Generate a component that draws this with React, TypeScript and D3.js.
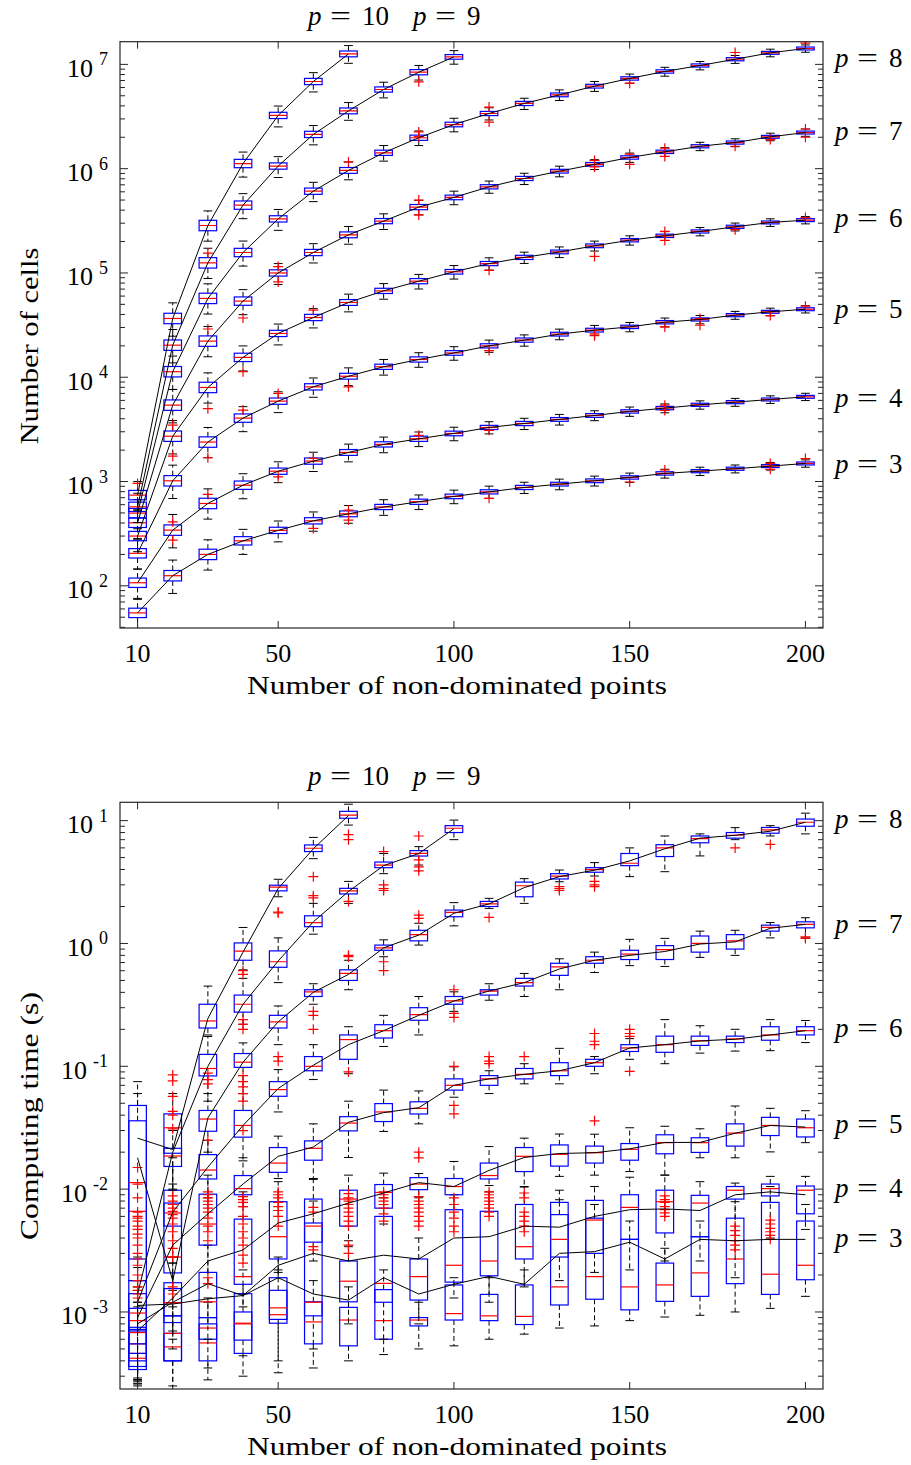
import React from 'react';
import * as d3 from 'd3';

type Row = [number, number, number, number, number]; // [whisker low, q1, median, q3, whisker high]

const NS = [10, 20, 30, 40, 50, 60, 70, 80, 90, 100, 110, 120, 130, 140, 150, 160, 170, 180, 190, 200];
const X_TICKS = [10, 50, 100, 150, 200];
const P_TOP = ['10', '9'];
const P_RIGHT = ['8', '7', '6', '5', '4', '3'];

// ---------- Panel 1: number of cells (medians) ----------
const cellsP3 = [55, 125, 200, 270, 340, 420, 490, 570, 640, 720, 796, 877, 944, 1016, 1094, 1196, 1257, 1326, 1406, 1490];
const cellsP4 = [107, 342, 616, 922, 1256, 1570, 1900, 2270, 2570, 2890, 3300, 3600, 3940, 4300, 4700, 5060, 5440, 5770, 6120, 6490];
const cellsP5 = [205, 1016, 2390, 4055, 5900, 8090, 10230, 12600, 14800, 17100, 20000, 22700, 25900, 28300, 30400, 33700, 35800, 39400, 42400, 44900];
const cellsP6 = [300, 2720, 7980, 15500, 26300, 37400, 52100, 67300, 83400, 102600, 123000, 141000, 159000, 182000, 206000, 227000, 250000, 277000, 305000, 321000];
const cellsP7 = [402, 5400, 22200, 53700, 100000, 157000, 232000, 314000, 428000, 530000, 670000, 805000, 946000, 1.1e6, 1.28e6, 1.45e6, 1.64e6, 1.78e6, 2.02e6, 2.22e6];
const cellsP8 = [498, 11300, 57000, 157000, 330000, 608000, 962000, 1.42e6, 1.98e6, 2.65e6, 3.38e6, 4.22e6, 5.1e6, 6.18e6, 7.33e6, 8.55e6, 9.76e6, 1.12e7, 1.29e7, 1.42e7];
const cellsP9 = [572, 20300, 125000, 447000, 1.06e6, 2.13e6, 3.58e6, 5.74e6, 8.41e6, 1.18e7];
const cellsP10 = [741, 36600, 285000, 1.12e6, 3.24e6, 6.85e6, 1.26e7];
// spreads read per x position (in decades)
const cellsBoxHalf = [0.045, 0.05, 0.05, 0.04, 0.03, 0.03, 0.028, 0.025, 0.025, 0.022, 0.02, 0.02, 0.018, 0.018, 0.016, 0.016, 0.015, 0.015, 0.014, 0.014];
const cellsWhiskUp = [0.13, 0.15, 0.14, 0.11, 0.09, 0.085, 0.08, 0.07, 0.065, 0.06, 0.055, 0.05, 0.048, 0.045, 0.042, 0.04, 0.038, 0.036, 0.035, 0.034];
const cellsWhiskDown = [0.15, 0.17, 0.15, 0.13, 0.11, 0.1, 0.09, 0.08, 0.075, 0.07, 0.062, 0.058, 0.054, 0.05, 0.047, 0.045, 0.042, 0.04, 0.038, 0.036];
const cellsOutliers: [number, number][] = [
  [10, 960], [30, 155000], [30, 29000], [20, 3470], [20, 1750], [20, 411], [20, 274], [40, 37000], [30, 5000], [30, 1690], [30, 752],
  [40, 11300], [40, 4840], [50, 115000], [50, 82000], [50, 7000], [50, 1110], [60, 44000], [60, 1670], [60, 355],
  [70, 1160000], [70, 8100], [70, 532], [70, 427], [90, 6800000], [90, 2250000], [90, 2030000], [90, 500000], [90, 360000], [90, 2770],
  [110, 3900000], [110, 2800000], [110, 106000], [110, 18000], [110, 3100], [110, 690], [140, 1200000], [140, 1040000], [140, 144000],
  [140, 26000], [140, 25000], [150, 6600000], [150, 1380000], [150, 1100000], [150, 990], [160, 1570000], [160, 1310000], [160, 250000],
  [160, 205000], [160, 30400], [160, 5400], [160, 4800], [160, 1290], [170, 36600], [170, 31500], [180, 13000000], [180, 1640000],
  [180, 260000], [190, 1900000], [190, 39000], [190, 1490], [190, 1310], [200, 16000000], [200, 2400000], [200, 2000000], [200, 340000],
  [200, 48000], [200, 1660],
];

// ---------- Panel 2: computing time ----------
const timeP3: Row[] = [
  [0.00029, 0.00034, 0.00042, 0.00072, 0.0012], [0.00025, 0.0004, 0.00052, 0.00067, 0.0011], [0.00028, 0.0004, 0.00056, 0.0008, 0.0012],
  [0.00044, 0.00059, 0.0008, 0.001, 0.0014], [0.00032, 0.00081, 0.00095, 0.0019, 0.0028], [0.00035, 0.00055, 0.00083, 0.00121, 0.0018],
  [0.0004, 0.00053, 0.00086, 0.00109, 0.0016], [0.00045, 0.0006, 0.00085, 0.00152, 0.0022], [0.0005, 0.00077, 0.00086, 0.0009, 0.0012],
  [0.00053, 0.00086, 0.00097, 0.00166, 0.0019], [0.0006, 0.00085, 0.00093, 0.00139, 0.0019], [0.00066, 0.00079, 0.00092, 0.00166, 0.0022],
  [0.00074, 0.00114, 0.0016, 0.0062, 0.0082], [0.00077, 0.00127, 0.00194, 0.0058, 0.0075], [0.00085, 0.00104, 0.0016, 0.0039, 0.0055],
  [0.00091, 0.00122, 0.00166, 0.0025, 0.0033], [0.00094, 0.00134, 0.00208, 0.0041, 0.0055], [0.001, 0.0017, 0.0027, 0.0058, 0.0079],
  [0.00107, 0.00139, 0.00203, 0.0078, 0.0105], [0.00134, 0.00183, 0.0024, 0.0055, 0.0075],
];
const timeMeanP3 = [0.00113, 0.00116, 0.00128, 0.00136, 0.0019, 0.0014, 0.00125, 0.0019, 0.0014, 0.00168, 0.00195, 0.00168, 0.003, 0.0031, 0.0037, 0.0027, 0.0039, 0.0038, 0.0039, 0.0039];

const timeP4: Row[] = [
  [0.00028, 0.00036, 0.00046, 0.0007, 0.0011], [0.00023, 0.0004, 0.00067, 0.00093, 0.0015], [0.00035, 0.0006, 0.00074, 0.0009, 0.0013],
  [0.0003, 0.00046, 0.00081, 0.00141, 0.0022], [0.0004, 0.00087, 0.00108, 0.0015, 0.0022], [0.0005, 0.00093, 0.0012, 0.0053, 0.008],
  [0.0008, 0.00121, 0.00178, 0.0026, 0.0038], [0.0006, 0.0012, 0.00171, 0.006, 0.0085], [0.0008, 0.00125, 0.00194, 0.0027, 0.004],
  [0.0013, 0.00175, 0.0024, 0.0068, 0.009], [0.0012, 0.00197, 0.0026, 0.0066, 0.0095], [0.0016, 0.0027, 0.0034, 0.0075, 0.0105],
  [0.0018, 0.0028, 0.0039, 0.0078, 0.0098], [0.0021, 0.003, 0.0056, 0.0081, 0.0105], [0.0022, 0.0039, 0.0071, 0.009, 0.0125],
  [0.0026, 0.0044, 0.0079, 0.0098, 0.013], [0.0026, 0.0041, 0.0077, 0.0089, 0.0115], [0.0019, 0.0083, 0.0098, 0.0105, 0.0112],
  [0.004, 0.0088, 0.0101, 0.011, 0.0127], [0.0047, 0.0063, 0.0098, 0.0106, 0.0127],
];
const timeMeanP4 = [0.0008, 0.0012, 0.0017, 0.00136, 0.0024, 0.003, 0.0026, 0.0029, 0.0027, 0.004, 0.0041, 0.005, 0.0049, 0.006, 0.0068, 0.0069, 0.0067, 0.009, 0.0095, 0.009];

const timeP5: Row[] = [
  [0.00028, 0.0004, 0.00055, 0.00075, 0.0012], [0.0005, 0.00082, 0.00119, 0.00155, 0.0025], [0.0006, 0.0009, 0.00121, 0.0021, 0.0035],
  [0.0011, 0.00168, 0.00194, 0.0057, 0.0095], [0.0021, 0.0027, 0.0041, 0.0079, 0.0115], [0.0026, 0.0037, 0.005, 0.0083, 0.012],
  [0.0034, 0.005, 0.0083, 0.0098, 0.013], [0.0052, 0.007, 0.0094, 0.0109, 0.0135], [0.0085, 0.0099, 0.011, 0.0124, 0.0134],
  [0.0075, 0.009, 0.0105, 0.0122, 0.0168], [0.0107, 0.0121, 0.0129, 0.0163, 0.0222], [0.0104, 0.0139, 0.0185, 0.0218, 0.026],
  [0.0127, 0.0154, 0.0192, 0.0229, 0.0281], [0.013, 0.0163, 0.0198, 0.0224, 0.028], [0.0139, 0.0172, 0.0211, 0.0235, 0.0316],
  [0.013, 0.0194, 0.0239, 0.0277, 0.0325], [0.018, 0.0199, 0.0239, 0.0262, 0.031], [0.018, 0.0224, 0.0286, 0.034, 0.0475],
  [0.0201, 0.0273, 0.033, 0.0384, 0.0455], [0.0239, 0.0266, 0.0316, 0.0372, 0.0435],
];
const timeMeanP5 = [0.0007, 0.0013, 0.0026, 0.0032, 0.0053, 0.0063, 0.0077, 0.0093, 0.0113, 0.0105, 0.0142, 0.0181, 0.0195, 0.0198, 0.0213, 0.024, 0.024, 0.0285, 0.033, 0.032];

const timeP6: Row[] = [
  [0.00028, 0.00046, 0.00068, 0.00107, 0.0016], [0.0006, 0.00093, 0.00119, 0.00173, 0.0028], [0.0017, 0.0035, 0.0052, 0.0091, 0.013],
  [0.0072, 0.009, 0.0101, 0.0129, 0.018], [0.0122, 0.0137, 0.0163, 0.0218, 0.027], [0.0122, 0.0172, 0.0215, 0.0247, 0.034],
  [0.0181, 0.0298, 0.0345, 0.0389, 0.052], [0.0295, 0.0355, 0.0425, 0.0497, 0.064], [0.034, 0.0409, 0.0454, 0.0514, 0.063],
  [0.056, 0.064, 0.07, 0.079, 0.099], [0.06, 0.07, 0.079, 0.084, 0.092], [0.072, 0.079, 0.086, 0.096, 0.105],
  [0.072, 0.084, 0.092, 0.107, 0.14], [0.087, 0.1, 0.107, 0.114, 0.12], [0.114, 0.132, 0.141, 0.15, 0.168],
  [0.105, 0.13, 0.15, 0.176, 0.24], [0.128, 0.148, 0.161, 0.176, 0.214], [0.133, 0.156, 0.167, 0.176, 0.2],
  [0.134, 0.163, 0.18, 0.21, 0.24], [0.156, 0.18, 0.195, 0.21, 0.236],
];
const timeMeanP6 = [0.0009, 0.0035, 0.0063, 0.011, 0.0185, 0.022, 0.035, 0.042, 0.046, 0.07, 0.079, 0.086, 0.092, 0.107, 0.141, 0.15, 0.161, 0.166, 0.18, 0.195];

const timeP7: Row[] = [
  [0.00027, 0.00055, 0.00085, 0.00141, 0.0023], [0.0025, 0.005, 0.0064, 0.0077, 0.011], [0.0085, 0.0121, 0.0143, 0.0191, 0.025],
  [0.017, 0.0265, 0.033, 0.0437, 0.06], [0.0425, 0.057, 0.0646, 0.075, 0.094], [0.078, 0.092, 0.1, 0.12, 0.15],
  [0.087, 0.114, 0.165, 0.18, 0.21], [0.145, 0.17, 0.195, 0.218, 0.26], [0.18, 0.237, 0.263, 0.3, 0.37],
  [0.28, 0.32, 0.341, 0.37, 0.404], [0.345, 0.38, 0.41, 0.42, 0.47], [0.37, 0.45, 0.48, 0.52, 0.57],
  [0.42, 0.55, 0.646, 0.69, 0.75], [0.58, 0.69, 0.73, 0.78, 0.85], [0.66, 0.74, 0.82, 0.88, 1.08],
  [0.65, 0.74, 0.89, 0.96, 1.1], [0.77, 0.85, 1.0, 1.15, 1.26], [0.8, 0.9, 1.05, 1.18, 1.28],
  [1.11, 1.26, 1.35, 1.41, 1.48], [1.11, 1.34, 1.43, 1.5, 1.62],
];
const timeMeanP7 = [0.0012, 0.0065, 0.0151, 0.033, 0.066, 0.102, 0.15, 0.195, 0.26, 0.34, 0.41, 0.48, 0.62, 0.73, 0.8, 0.86, 0.99, 1.03, 1.33, 1.43];

const timeP8: Row[] = [
  [0.00026, 0.0018, 0.0066, 0.036, 0.06], [0.0007, 0.00208, 0.0028, 0.0098, 0.018], [0.02, 0.0296, 0.0372, 0.0437, 0.06],
  [0.06, 0.098, 0.108, 0.127, 0.155], [0.15, 0.205, 0.23, 0.26, 0.31], [0.32, 0.37, 0.404, 0.42, 0.47],
  [0.42, 0.5, 0.57, 0.61, 0.73], [0.78, 0.88, 0.92, 0.97, 1.07], [0.97, 1.05, 1.18, 1.28, 1.46],
  [1.39, 1.65, 1.79, 1.87, 2.15], [1.93, 2.0, 2.1, 2.2, 2.33], [2.12, 2.4, 2.95, 3.16, 3.37],
  [3.18, 3.35, 3.54, 3.7, 3.96], [3.54, 3.8, 3.99, 4.14, 4.55], [3.5, 4.3, 4.5, 5.4, 6.0],
  [3.84, 5.1, 5.99, 6.37, 7.5], [5.16, 6.6, 7.13, 7.5, 7.8], [7.0, 7.2, 7.6, 8.0, 8.77],
  [7.5, 7.9, 8.4, 8.8, 9.1], [7.8, 9.0, 9.7, 10.3, 11.5],
];
const timeMeanP8 = [0.018, 0.0018, 0.038, 0.108, 0.23, 0.4, 0.56, 0.92, 1.17, 1.76, 2.1, 2.85, 3.5, 3.95, 4.7, 5.9, 7.2, 7.6, 8.2, 9.7];

const timeP9: Row[] = [
  [0.00026, 0.00072, 0.00098, 0.0018, 0.0028], [0.0098, 0.0153, 0.0186, 0.0215, 0.03], [0.052, 0.0835, 0.096, 0.125, 0.175],
  [0.22, 0.276, 0.32, 0.38, 0.52], [0.48, 0.64, 0.71, 0.87, 1.11], [1.19, 1.37, 1.48, 1.68, 2.12],
  [2.12, 2.53, 2.68, 2.81, 3.2], [3.7, 4.14, 4.35, 4.6, 5.4], [4.35, 5.15, 5.42, 5.7, 6.14], [7.0, 8.0, 8.67, 9.1, 10.1],
];
const timeMeanP9 = [0.0014, 0.02, 0.1, 0.32, 0.72, 1.5, 2.65, 4.3, 5.4, 8.6];

const timeP10: Row[] = [
  [0.00025, 0.0027, 0.0113, 0.048, 0.075], [0.01, 0.0196, 0.0316, 0.041, 0.06], [0.18, 0.205, 0.234, 0.32, 0.45],
  [0.61, 0.73, 0.867, 1.01, 1.35], [2.4, 2.68, 2.87, 2.98, 3.33], [4.9, 5.6, 5.96, 6.34, 7.3], [9.2, 10.45, 11.1, 11.9, 13.6],
];
const timeMeanP10 = [0.026, 0.021, 0.245, 0.85, 2.8, 5.9, 11.0];

const timeOutliers: [number, number][] = [
  [10, 0.015], [10, 0.011], [10, 0.0085], [10, 0.0065], [10, 0.006], [10, 0.0058], [10, 0.0055], [10, 0.005], [10, 0.0047], [10, 0.0043],
  [10, 0.004], [10, 0.0035], [10, 0.003], [10, 0.0027], [10, 0.0024], [10, 0.002], [10, 0.0018], [10, 0.0016], [10, 0.0015], [10, 0.0014], [10, 0.0013],
  [20, 0.085], [20, 0.076], [20, 0.057], [20, 0.043], [20, 0.04], [20, 0.031], [20, 0.0088], [20, 0.008], [20, 0.0075], [20, 0.007],
  [20, 0.0066], [20, 0.0062], [20, 0.0058], [20, 0.0052], [20, 0.0045], [20, 0.0038], [20, 0.0033], [20, 0.0028], [20, 0.0016], [20, 0.0014],
  [30, 0.088], [30, 0.078], [30, 0.072], [30, 0.025], [30, 0.0095], [30, 0.009], [30, 0.0085], [30, 0.008], [30, 0.0075], [30, 0.007],
  [30, 0.0065], [30, 0.0058], [30, 0.005], [30, 0.0045], [30, 0.0038], [30, 0.0019], [30, 0.0017],
  [40, 0.6], [40, 0.56], [40, 0.24], [40, 0.22], [40, 0.2], [40, 0.084], [40, 0.075], [40, 0.068], [40, 0.06], [40, 0.052], [40, 0.03],
  [40, 0.0087], [40, 0.0082], [40, 0.0078], [40, 0.0072], [40, 0.006], [40, 0.0052], [40, 0.0045], [40, 0.004], [40, 0.0035], [40, 0.0029], [40, 0.0025],
  [50, 1.8], [50, 1.77], [50, 0.12], [50, 0.11], [50, 0.0095], [50, 0.009], [50, 0.0085], [50, 0.0078], [50, 0.0072], [50, 0.0067], [50, 0.006], [50, 0.005],
  [60, 3.5], [60, 2.45], [60, 2.35], [60, 0.28], [60, 0.26], [60, 0.2], [60, 0.0071], [60, 0.0065], [60, 0.0034], [60, 0.0032],
  [70, 7.7], [70, 7.0], [70, 2.2], [70, 0.8], [70, 0.78], [70, 0.09], [70, 0.0092], [70, 0.0085], [70, 0.008], [70, 0.0075], [70, 0.007],
  [70, 0.0065], [70, 0.006], [70, 0.0055], [70, 0.005], [70, 0.0035], [70, 0.003],
  [80, 5.6], [80, 3.0], [80, 2.8], [80, 2.7], [80, 0.71], [80, 0.6], [80, 0.0095], [80, 0.009], [80, 0.0085], [80, 0.008], [80, 0.0075], [80, 0.007], [80, 0.0063], [80, 0.0055],
  [90, 7.5], [90, 4.8], [90, 4.2], [90, 3.9], [90, 1.7], [90, 1.6], [90, 0.02], [90, 0.018], [90, 0.0087], [90, 0.008], [90, 0.0075], [90, 0.007],
  [90, 0.0065], [90, 0.006], [90, 0.0055], [90, 0.005],
  [100, 0.42], [100, 0.27], [100, 0.25], [100, 0.1], [100, 0.048], [100, 0.041], [100, 0.0085], [100, 0.0075], [100, 0.0065], [100, 0.0058], [100, 0.005], [100, 0.0045],
  [110, 1.63], [110, 0.12], [110, 0.11], [110, 0.105], [110, 0.0095], [110, 0.009], [110, 0.0085], [110, 0.008], [110, 0.0075], [110, 0.007], [110, 0.0065], [110, 0.006],
  [120, 0.12], [120, 0.0093], [120, 0.0085], [120, 0.0065], [120, 0.006], [120, 0.0055], [120, 0.005], [120, 0.0045],
  [130, 2.9], [130, 2.8], [130, 2.7], [140, 3.2], [140, 3.0], [140, 2.9], [140, 0.185], [140, 0.16], [140, 0.15], [140, 0.036],
  [150, 0.2], [150, 0.185], [150, 0.175], [150, 0.091],
  [160, 0.0088], [160, 0.0082], [160, 0.0078], [160, 0.0072], [160, 0.0068], [160, 0.0064], [160, 0.006],
  [180, 6.0], [180, 0.005], [180, 0.0046], [180, 0.0042], [180, 0.0038], [180, 0.0035], [180, 0.0032],
  [190, 6.4], [190, 0.0056], [190, 0.0052], [190, 0.0048], [190, 0.0045], [190, 0.0042], [190, 0.0039],
  [200, 1.13], [200, 1.1],
];

// ---------- rendering ----------
const FONT = '"Liberation Serif", "Times New Roman", serif';
const BLUE = '#0000ff';
const RED = '#ff0000';
const AXIS = '#262626';

const cellsMedians = [cellsP3, cellsP4, cellsP5, cellsP6, cellsP7, cellsP8, cellsP9, cellsP10];
const cellsRows: Row[][] = cellsMedians.map((meds) =>
  meds.map((m, i) => [
    m / Math.pow(10, cellsWhiskDown[i]),
    m / Math.pow(10, cellsBoxHalf[i]),
    m,
    m * Math.pow(10, cellsBoxHalf[i]),
    m * Math.pow(10, cellsWhiskUp[i]),
  ] as Row)
);
const timeRows: Row[][] = [timeP3, timeP4, timeP5, timeP6, timeP7, timeP8, timeP9, timeP10];
const timeMeans = [timeMeanP3, timeMeanP4, timeMeanP5, timeMeanP6, timeMeanP7, timeMeanP8, timeMeanP9, timeMeanP10];

const L = 120, R = 823;
const xS = d3.scaleLinear().domain([5, 205]).range([L, R]);

interface PanelCfg {
  id: string;
  top: number;
  bottom: number;
  y: d3.ScaleLogarithmic<number, number>;
  rows: Row[][];
  means: number[][];
  outliers: [number, number][];
  ytitle: string;
  ytitleY: number;
  ytitleLen: number;
  topLabelY: number;
  rightLabelYs: number[];
}

function PLabel({ x, y, num }: { x: number; y: number; num: string }) {
  return (
    <g fontFamily={FONT} fontSize={27} fill="#000">
      <text x={x} y={y} fontStyle="italic">p</text>
      <text x={x + 22} y={y} textLength={21} lengthAdjust="spacingAndGlyphs">=</text>
      <text x={x + 54} y={y}>{num}</text>
    </g>
  );
}

function Panel({ cfg }: { cfg: PanelCfg }) {
  const { y, top, bottom } = cfg;
  const halfW = xS(12.5) - xS(10);
  const capW = xS(11.25) - xS(10);
  const ticks = y.ticks();
  const isMajor = (v: number) => Math.abs(Math.log10(v) - Math.round(Math.log10(v))) < 1e-9;
  const line = d3.line<number>().x((_, i) => xS(NS[i])).y((v) => y(v));
  const clipId = `clip-${cfg.id}`;

  return (
    <g>
      <defs>
        <clipPath id={clipId}>
          <rect x={L} y={top} width={R - L} height={bottom - top} />
        </clipPath>
      </defs>
      <g clipPath={`url(#${clipId})`}>
        {cfg.rows.map((series, si) => (
          <g key={si}>
            {series.map((r, i) => {
              const cx = xS(NS[i]);
              const [wl, q1, md, q3, wh] = r;
              return (
                <g key={i}>
                  <line x1={cx} x2={cx} y1={y(q3)} y2={y(wh)} stroke="#000" strokeWidth={1} strokeDasharray="5,3" />
                  <line x1={cx} x2={cx} y1={y(q1)} y2={y(wl)} stroke="#000" strokeWidth={1} strokeDasharray="5,3" />
                  <line x1={cx - capW} x2={cx + capW} y1={y(wh)} y2={y(wh)} stroke="#000" strokeWidth={1} />
                  <line x1={cx - capW} x2={cx + capW} y1={y(wl)} y2={y(wl)} stroke="#000" strokeWidth={1} />
                  <rect x={cx - halfW} y={y(q3)} width={2 * halfW} height={Math.max(0.5, y(q1) - y(q3))} fill="none" stroke={BLUE} strokeWidth={1.2} />
                  <line x1={cx - halfW} x2={cx + halfW} y1={y(md)} y2={y(md)} stroke={RED} strokeWidth={1.2} />
                </g>
              );
            })}
          </g>
        ))}
        {cfg.outliers.map(([n, v], i) => {
          const cx = xS(n), cy = y(v);
          return <path key={i} d={`M${cx - 5},${cy}H${cx + 5}M${cx},${cy - 5}V${cy + 5}`} stroke={RED} strokeWidth={1.2} fill="none" />;
        })}
        {cfg.means.map((m, si) => (
          <path key={si} d={line(m) || ''} fill="none" stroke="#000" strokeWidth={1} />
        ))}
      </g>
      {/* axes frame */}
      <rect x={L} y={top} width={R - L} height={bottom - top} fill="none" stroke={AXIS} strokeWidth={1.2} />
      {X_TICKS.map((t) => (
        <g key={t}>
          <line x1={xS(t)} x2={xS(t)} y1={bottom} y2={bottom - 7} stroke={AXIS} strokeWidth={1} />
          <line x1={xS(t)} x2={xS(t)} y1={top} y2={top + 7} stroke={AXIS} strokeWidth={1} />
          <text x={xS(t)} y={bottom + 33.5} textAnchor="middle" fontFamily={FONT} fontSize={26}>{t}</text>
        </g>
      ))}
      {ticks.map((t, i) => {
        const ty = y(t);
        const major = isMajor(t);
        const len = major ? 8 : 5;
        return (
          <g key={i}>
            <line x1={L} x2={L + len} y1={ty} y2={ty} stroke={AXIS} strokeWidth={1} />
            <line x1={R} x2={R - len} y1={ty} y2={ty} stroke={AXIS} strokeWidth={1} />
            {major && (
              <text x={108} y={ty + 12.5} textAnchor="end" fontFamily={FONT} fontSize={26}>
                10
                <tspan dx={6} dy={-11.5} fontSize={18}>{String(Math.round(Math.log10(t)))}</tspan>
              </text>
            )}
          </g>
        );
      })}
      <text x={457} y={bottom + 65.5} textAnchor="middle" fontFamily={FONT} fontSize={26} textLength={420} lengthAdjust="spacingAndGlyphs">
        Number of non-dominated points
      </text>
      <text transform={`translate(38,${cfg.ytitleY}) rotate(-90)`} textAnchor="middle" fontFamily={FONT} fontSize={26} textLength={cfg.ytitleLen} lengthAdjust="spacingAndGlyphs">
        {cfg.ytitle}
      </text>
      <PLabel x={308} y={cfg.topLabelY} num={P_TOP[0]} />
      <PLabel x={413} y={cfg.topLabelY} num={P_TOP[1]} />
      {P_RIGHT.map((p, i) => (
        <PLabel key={p} x={835} y={cfg.rightLabelYs[i]} num={p} />
      ))}
    </g>
  );
}

export default function App() {
  const panels: PanelCfg[] = [
    {
      id: 'cells', top: 41.7, bottom: 628,
      y: d3.scaleLog().domain([39.4, 1.65e7]).range([628, 41.7]),
      rows: cellsRows, means: cellsMedians, outliers: cellsOutliers,
      ytitle: 'Number of cells', ytitleY: 346, ytitleLen: 197,
      topLabelY: 25, rightLabelYs: [66.7, 140, 226.7, 318, 406.7, 473.3],
    },
    {
      id: 'time', top: 802.3, bottom: 1389,
      y: d3.scaleLog().domain([2.36e-4, 14.1]).range([1389, 802.3]),
      rows: timeRows, means: timeMeans, outliers: timeOutliers,
      ytitle: 'Computing time (s)', ytitleY: 1116, ytitleLen: 248,
      topLabelY: 785, rightLabelYs: [828.3, 933.3, 1036.7, 1133.3, 1196.7, 1246.7],
    },
  ];
  return (
    <svg width={911} height={1465} viewBox="0 0 911 1465" style={{ position: 'absolute', left: 0, top: 0, background: '#fff' }}>
      <rect x={0} y={0} width={911} height={1465} fill="#fff" />
      {panels.map((p) => <Panel key={p.id} cfg={p} />)}
    </svg>
  );
}
